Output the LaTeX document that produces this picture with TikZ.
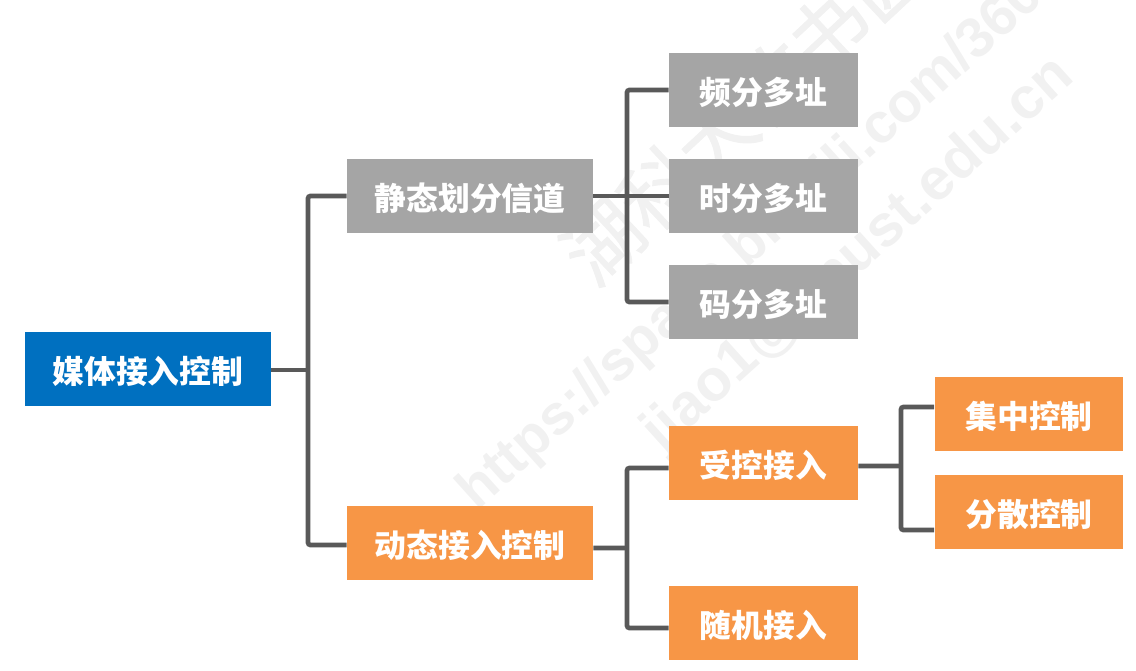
\documentclass[tikz,border=0pt]{standalone}
\usepackage{fontspec}
\setmainfont{Noto Sans CJK SC}
\newfontfamily\markfont{Liberation Sans}
\newfontfamily\namefont{Noto Sans CJK SC}[FakeBold=1.2]
\usepackage{xcolor}
\usepackage{tikz}
\definecolor{boxblue}{HTML}{0070C0}
\definecolor{boxgray}{HTML}{A5A5A5}
\definecolor{boxorange}{HTML}{F79646}
\definecolor{linkgray}{HTML}{595959}
\definecolor{markgray}{HTML}{F1F1F1}
\tikzset{
    box/.style={minimum height=1.48cm,inner sep=0pt,text height=0.66cm,text depth=0.1cm,text=white,font=\fontsize{18.1}{18.1}\selectfont\bfseries},
    widebox/.style={box,minimum width=4.92cm},
    narrowbox/.style={box,minimum width=3.78cm},
    link/.style={draw=linkgray,line width=0.095cm,rounded corners=0.05cm},
    markname/.style={rotate=43,anchor=west,text=markgray,font=\namefont\fontsize{44}{44}\selectfont},
    markline/.style={rotate=42,anchor=west,text=markgray,font=\markfont\fontsize{32}{32}\selectfont\bfseries}
}

\begin{document}
\begin{tikzpicture}[x=0.02cm,y=-0.02cm]
            \useasboundingbox (0,0) rectangle (1136,670);

            % Faint marks behind the boxes
            \node[markname] (namemark) at (570,272) {湖科大教书匠};
            \node[markline] (urlmark) at (463,505) {https://space.bilibili.com/360996402};
            \node[markline,font=\markfont\fontsize{33.4}{33.4}\selectfont\bfseries] (mailmark) at (648,445) {jiao1@hnust.edu.cn};

            % Root box
            \node[widebox,fill=boxblue] (media) at (148,369) {媒体接入控制};

            % Second level
            \node[widebox,fill=boxgray] (static) at (470,196) {静态划分信道};
            \node[widebox,fill=boxorange] (dynamic) at (470,543) {动态接入控制};

            % Static branches
            \node[narrowbox,fill=boxgray] (freq) at (763.5,90) {频分多址};
            \node[narrowbox,fill=boxgray] (time) at (763.5,196) {时分多址};
            \node[narrowbox,fill=boxgray] (code) at (763.5,302) {码分多址};

            % Dynamic branches
            \node[narrowbox,fill=boxorange] (controlled) at (763.5,463) {受控接入};
            \node[narrowbox,fill=boxorange] (random) at (763.5,623) {随机接入};
            \node[narrowbox,fill=boxorange] (central) at (1029,414) {集中控制};
            \node[narrowbox,fill=boxorange] (spread) at (1029,512) {分散控制};

            % Where the branches meet
            \coordinate (mediabus) at (308,370);
            \coordinate (staticbus) at (627,196);
            \coordinate (dynamicbus) at (627,548);
            \coordinate (controlbus) at (901,466);

            % Connectors of the root
            \draw[link] ([yshift=-0.02cm]media.east) -- (mediabus);
            \draw[link] (static.west) -| (mediabus) |- ([yshift=-0.04cm]dynamic.west);

            % Connectors of the static side
            \draw[link] (static.east) -- (time.west);
            \draw[link] (freq.west) -| (staticbus) |- (code.west);

            % Connectors of the dynamic side
            \draw[link] ([yshift=-0.1cm]dynamic.east) -- (dynamicbus);
            \draw[link] ([yshift=-0.1cm]controlled.west) -| (dynamicbus) |- ([yshift=-0.1cm]random.west);

            % Connectors of the controlled side
            \draw[link] ([yshift=-0.06cm]controlled.east) -- (controlbus);
            \draw[link] ([yshift=0.14cm]central.west) -| (controlbus) |- ([yshift=-0.36cm]spread.west);

\end{tikzpicture}
\end{document}
